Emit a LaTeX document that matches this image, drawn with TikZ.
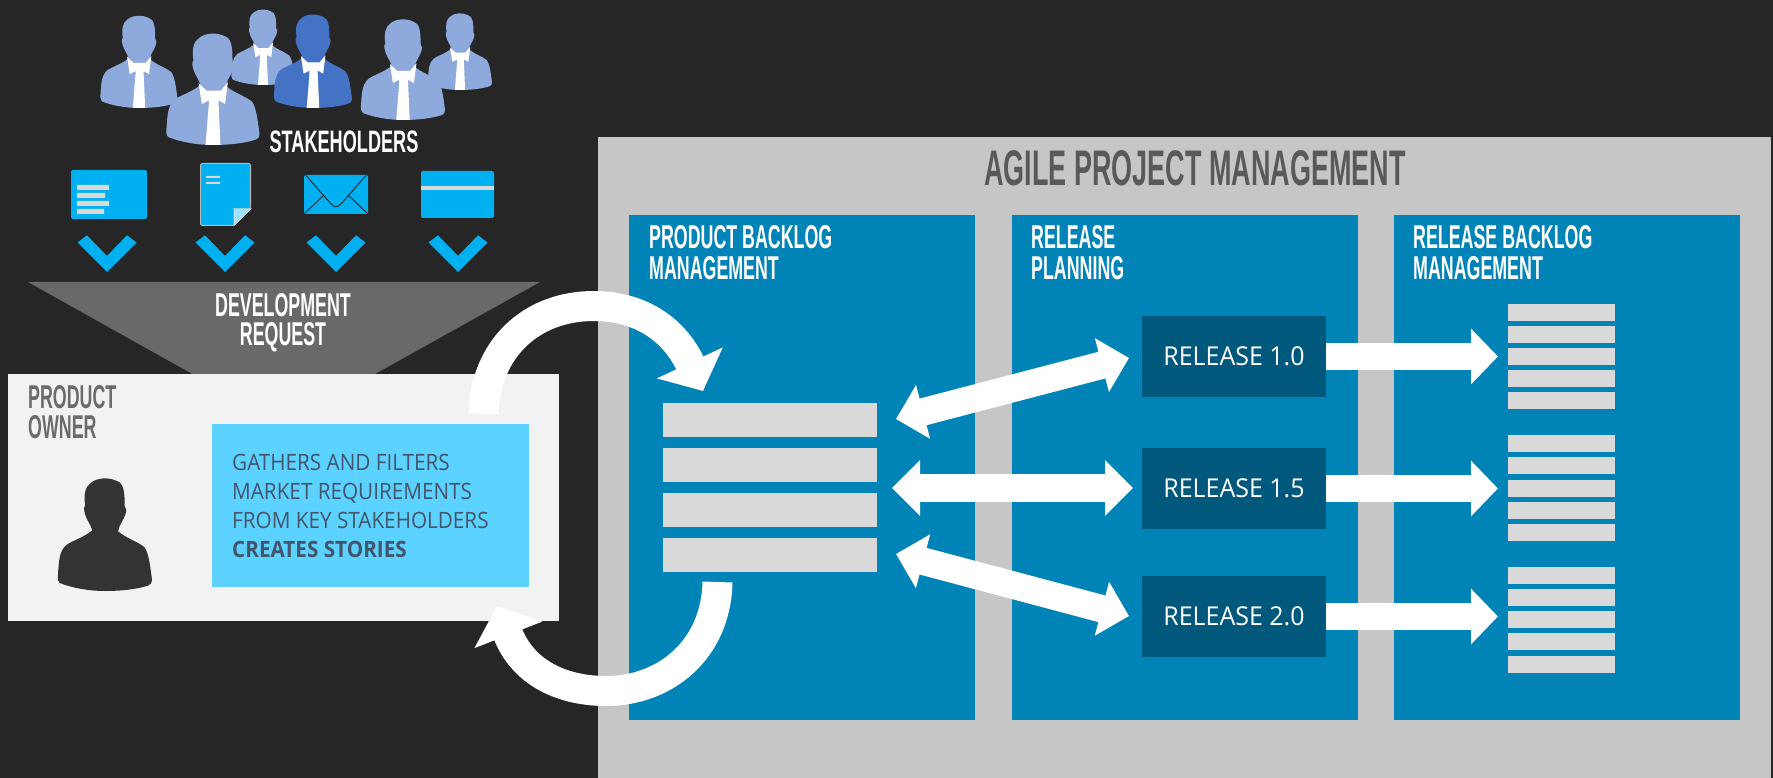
\documentclass[tikz,border=0pt]{standalone}
\usepackage{fontspec}
\usetikzlibrary{arrows.meta,calc}
\setmainfont{Open Sans}
\newfontfamily\headfont[FakeStretch=0.54,BoldFont={Liberation Sans Bold}]{Liberation Sans}
\newfontfamily\stakefont[FakeStretch=0.585,BoldFont={Liberation Sans Bold}]{Liberation Sans}
\newfontfamily\bodyfont[FakeStretch=0.92]{Open Sans}
\newfontfamily\relfont[FakeStretch=0.96]{Open Sans}
\definecolor{bgc}{HTML}{262626}
\definecolor{panelc}{HTML}{C6C6C6}
\definecolor{bluec}{HTML}{0084B7}
\definecolor{relc}{HTML}{00587C}
\definecolor{barc}{HTML}{D9D9D9}
\definecolor{ownerc}{HTML}{F2F2F2}
\definecolor{lblue}{HTML}{5BD2FF}
\definecolor{iconc}{HTML}{00B0F0}
\definecolor{personc}{HTML}{8EA9DB}
\definecolor{darkperson}{HTML}{4472C4}
\definecolor{triac}{HTML}{696969}
\definecolor{bodyc}{HTML}{44546A}
\tikzset{
  box/.style={draw=none,inner sep=0pt,outer sep=0pt,anchor=north west},
  capline/.style={inner sep=0pt,text height=#1,text depth=0pt},
  headtext/.style={font=\headfont\bfseries\fontsize{33}{33}\selectfont,capline=23.6pt,anchor=west,text=white},
  relbox/.style={fill=relc,inner sep=0pt,outer sep=0pt,minimum width=184pt,minimum height=81pt,text=white,font=\relfont\fontsize{26}{26}\selectfont,text height=18.6pt,text depth=0pt},
  bodyline/.style={font=\bodyfont\fontsize{22.5}{22.5}\selectfont,capline=16.1pt,text=bodyc,anchor=west},
  flow/.style={line width=27.5pt,white,-{Triangle[length=27pt,width=54pt]}},
  flowboth/.style={line width=27.5pt,white,{Triangle[length=28pt,width=54pt]}-{Triangle[length=28pt,width=54pt]}},
  loop/.style={line width=30pt,white,-{Triangle[length=31pt,width=71pt]}},
  person/.pic={
    \fill[pic actions] (0,0.0) .. controls (-.35,0) and (-.72,-.07) .. (-.96,-.17)
      .. controls (-1.02,-.22) and (-1,-.3) .. (-1,-.36)
      .. controls (-.98,-.62) and (-.98,-.85) .. (-.82,-.98)
      .. controls (-.7,-1.07) and (-.45,-1.14) .. (-.27,-1.29)
      .. controls (-.3,-1.42) and (-.4,-1.5) .. (-.44,-1.7)
      .. controls (-.46,-1.75) and (-.44,-1.8) .. (-.42,-1.82)
      .. controls (-.46,-2.05) and (-.42,-2.22) .. (-.3,-2.3)
      .. controls (-.17,-2.42) and (.1,-2.42) .. (.25,-2.34)
      .. controls (.4,-2.3) and (.42,-2.1) .. (.42,-1.8)
      .. controls (.46,-1.75) and (.46,-1.7) .. (.44,-1.65)
      .. controls (.4,-1.5) and (.3,-1.42) .. (.28,-1.27)
      .. controls (.45,-1.12) and (.7,-1.05) .. (.84,-.93)
      .. controls (.93,-.8) and (.96,-.55) .. (1,-.24)
      .. controls (1,-.18) and (.98,-.14) .. (.93,-.12)
      .. controls (.7,-.04) and (.35,0) .. (0,0) -- cycle;
  },
  tie/.pic={
    \fill[white] (-.31,-1.33) -- (-.14,-1.17) -- (.17,-1.17) -- (.32,-1.35) -- (.26,-.88)
      -- (.12,-.96) -- (.12,-.9) -- (.16,0) -- (0,0) -- (-.16,0) -- (-.09,-.88) -- (-.09,-.96) -- (-.24,-.88) -- cycle;
  },
  chevron/.pic={
    \fill[iconc] (-29.5,-29.5) -- (-20,-36.7) -- (0,-16) -- (20,-36.7) -- (29.5,-29.5) -- (0,0) -- cycle;
  }
}
\newcommand{\guy}[4]{% x, bottom y, half width, colour
  \begin{scope}[shift={(#1,#2)}]
  \pic[fill=#4,x=#3pt,y=-#3pt] {person};
  \pic[x=#3pt,y=-#3pt] {tie};
  \end{scope}
}
\begin{document}
\begin{tikzpicture}[x=1pt,y=-1pt]
\useasboundingbox (0,0) rectangle (1773,778);
\fill[bgc] (0,0) rectangle (1773,778);
% panel
\node[box,fill=panelc,minimum width=1173pt,minimum height=641pt] (panel) at (598,137) {};
\node[box,fill=bluec,minimum width=346pt,minimum height=505pt] (pb) at (629,215) {};
\node[box,fill=bluec,minimum width=346pt,minimum height=505pt] (rp) at (1012,215) {};
\node[box,fill=bluec,minimum width=346pt,minimum height=505pt] (rb) at (1394,215) {};
\node[font=\headfont\bfseries\fontsize{50}{50}\selectfont,capline=35.8pt,text=black!65] (title) at (1195,168) {AGILE PROJECT MANAGEMENT};
\node[headtext] (h1a) at (649,237) {PRODUCT BACKLOG};
\node[headtext] (h1b) at (649,268) {MANAGEMENT};
\node[headtext] (h2a) at (1031,237) {RELEASE};
\node[headtext] (h2b) at (1031,268) {PLANNING};
\node[headtext] (h3a) at (1413,237) {RELEASE BACKLOG};
\node[headtext] (h3b) at (1413,268) {MANAGEMENT};
% people
\guy{263}{85}{31.5}{personc}
\guy{313}{108}{39}{darkperson}
\guy{139}{108}{38.5}{personc}
\guy{213}{145}{46.5}{personc}
\guy{460}{90}{32}{personc}
\guy{403}{120}{42}{personc}
\node[font=\stakefont\bfseries\fontsize{31}{31}\selectfont,capline=22.2pt,text=white] (stake) at (344,141) {STAKEHOLDERS};
% icons
\fill[iconc,rounded corners=2pt] (71,170) rectangle (147,219);
\fill[barc] (77,185) rectangle (109,190) (77,193) rectangle (105,198) (77,201) rectangle (109,206) (77,209) rectangle (104,214);
\draw[fill=iconc,draw=barc!85!black,line width=1pt,rounded corners=2pt] (200.5,163.5) -- (250.5,163.5) -- (250.5,209) -- (234,225.5) -- (200.5,225.5) -- cycle;
\fill[lblue!60!white,draw=barc,line width=1pt] (250.5,209) -- (234,209) -- (234,225.5) -- cycle;
\fill[barc] (206,176) rectangle (220,178) (206,182) rectangle (220,184);
\fill[iconc,rounded corners=1.5pt] (304,175) rectangle (368,214);
\draw[bgc,line width=.9pt] (306,175.5) -- (331,204) .. controls (334,207.5) and (338,207.5) .. (341,204) -- (366,175.5)
  (305,213) -- (324,195) (367,213) -- (348,195);
\fill[iconc,rounded corners=2pt] (421,171) rectangle (494,218);
\fill[barc] (421,186) rectangle (494,190);
\pic at (107,272) {chevron};
\pic at (225,272) {chevron};
\pic at (336,272) {chevron};
\pic at (458,272) {chevron};
% request + owner
\fill[triac] (28,282) -- (540,282) -- (283.5,425) -- cycle;
\node[font=\headfont\bfseries\fontsize{33}{33}\selectfont,capline=23.6pt,text=white] (dev1) at (283,304.5) {DEVELOPMENT};
\node[font=\headfont\bfseries\fontsize{33}{33}\selectfont,capline=23.6pt,text=white] (dev2) at (283,334) {REQUEST};
\node[box,fill=ownerc,minimum width=551pt,minimum height=247pt] (owner) at (8,374) {};
\node[headtext,text=black!58] (own1) at (28,396.5) {PRODUCT};
\node[headtext,text=black!58] (own2) at (28,426.5) {OWNER};
\begin{scope}[shift={(105,591)}]
\pic[fill=black!80,x=47pt,y=-47pt] {person};
\end{scope}
\node[box,fill=lblue,minimum width=317pt,minimum height=163pt] (req) at (212,424) {};
\node[bodyline] (b1) at (232,462) {GATHERS AND FILTERS};
\node[bodyline] (b2) at (232,491) {MARKET REQUIREMENTS};
\node[bodyline] (b3) at (232,520.5) {FROM KEY STAKEHOLDERS};
\node[bodyline,font=\bodyfont\bfseries\fontsize{22.5}{22.5}\selectfont] (b4) at (232,549) {CREATES STORIES};
% backlog bars
\foreach \n/\y in {1/403,2/448,3/493,4/538}
  \node[box,fill=barc,minimum width=214pt,minimum height=34pt] (bk\n) at (663,\y) {};
% release backlog bars
\foreach \y in {304,326,348,370,392,435,457,480,502,524,567,589,611,633,656}
  \fill[barc] (1508,\y) rectangle (1615,\y+17);
% releases
\node[relbox] (r1) at (1234,356.5) {RELEASE 1.0};
\node[relbox] (r2) at (1234,488.5) {RELEASE 1.5};
\node[relbox] (r3) at (1234,616.5) {RELEASE 2.0};
% named free ends
\coordinate (o1) at (1498,356.5);
\coordinate (o2) at (1498,488.5);
\coordinate (o3) at (1498,616.5);
\coordinate (a1l) at (896,419);
\coordinate (a1r) at (1129,358);
\coordinate (a2l) at (892,488);
\coordinate (a2r) at (1133,488);
\coordinate (a3l) at (896,554);
\coordinate (a3r) at (1129,616);
\coordinate (upS) at (483.5,414);
\coordinate (upE) at (703,391);
\coordinate (loS) at (717.5,582);
\coordinate (loE) at (497,606);
% connectors
\draw[flow] (r1.east) -- (o1);
\draw[flow] (r2.east) -- (o2);
\draw[flow] (r3.east) -- (o3);
\draw[flowboth] (a1l) -- (a1r);
\draw[flowboth] (a2l) -- (a2r);
\draw[flowboth] (a3l) -- (a3r);
\draw[loop] (upS) .. controls (485,350) and (530,306) .. (594,306) .. controls (635,306) and (672,325) .. (upE);
\draw[loop] (loS) .. controls (716,650) and (665,691) .. (606,691) .. controls (565,691) and (524,675) .. (loE);
\end{tikzpicture}
\end{document}
